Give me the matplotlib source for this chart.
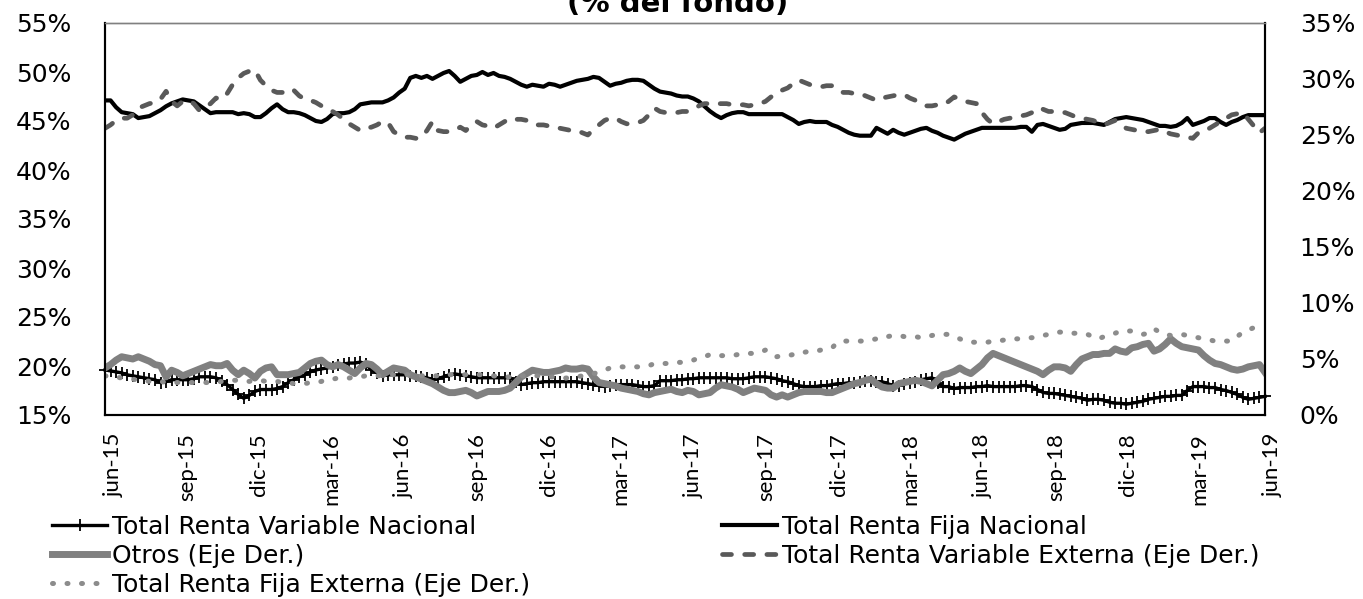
import matplotlib
matplotlib.use("Agg")
import matplotlib.pyplot as plt
from matplotlib.ticker import FuncFormatter
from matplotlib.transforms import ScaledTranslation
import pandas as pd

plt.rcParams["font.family"] = ["DejaVu Sans"]

# Weekly observations, June 2015 - June 2019 (% of the fund)
dates = pd.date_range("2015-06-01", periods=210, freq="7D")

tick_dates = pd.date_range("2015-06-01", "2019-06-01", freq="3MS")
tick_labels = ["jun-15", "sep-15", "dic-15", "mar-16", "jun-16", "sep-16",
               "dic-16", "mar-17", "jun-17", "sep-17", "dic-17", "mar-18",
               "jun-18", "sep-18", "dic-18", "mar-19", "jun-19"]

# Left axis
renta_variable_nacional = [
    19.6, 19.5, 19.4, 19.3, 19.1, 19.0, 18.9, 18.8, 18.7, 18.6,
    18.3, 18.4, 18.6, 18.6, 18.6, 18.6, 18.7, 18.9, 18.9, 18.9,
    18.8, 18.5, 18.1, 17.6, 17.1, 16.7, 17.0, 17.4, 17.6, 17.6,
    17.6, 17.7, 17.9, 18.3, 18.6, 18.9, 19.1, 19.4, 19.6, 19.7,
    19.8, 19.9, 20.1, 20.2, 20.3, 20.3, 20.4, 20.2, 19.6, 19.3,
    19.0, 19.1, 19.1, 19.1, 19.1, 19.0, 19.0, 18.9, 18.8, 18.6,
    18.7, 18.9, 19.1, 19.2, 19.1, 19.0, 18.9, 18.8, 18.8, 18.8,
    18.8, 18.8, 18.8, 18.8, 18.4, 18.1, 18.2, 18.3, 18.3, 18.4,
    18.4, 18.4, 18.4, 18.4, 18.4, 18.4, 18.3, 18.2, 18.1, 18.0,
    17.9, 18.0, 18.1, 18.1, 18.1, 18.1, 18.0, 17.9, 17.9, 18.0,
    18.5, 18.5, 18.5, 18.6, 18.6, 18.7, 18.7, 18.8, 18.8, 18.8,
    18.8, 18.8, 18.8, 18.7, 18.7, 18.7, 18.8, 18.9, 18.9, 18.9,
    18.8, 18.7, 18.5, 18.4, 18.2, 18.0, 17.9, 17.9, 17.9, 18.0,
    18.0, 18.1, 18.2, 18.2, 18.3, 18.3, 18.4, 18.5, 18.5, 18.4,
    18.4, 18.2, 18.0, 18.0, 18.2, 18.3, 18.4, 18.6, 18.7, 18.8,
    18.3, 17.9, 17.9, 17.7, 17.8, 17.8, 17.8, 17.9, 17.9, 18.0,
    17.9, 17.9, 17.9, 17.9, 17.9, 18.0, 18.0, 17.9, 17.6, 17.3,
    17.2, 17.2, 17.1, 17.0, 16.9, 16.8, 16.7, 16.5, 16.6, 16.6,
    16.5, 16.3, 16.2, 16.2, 16.1, 16.2, 16.3, 16.4, 16.6, 16.7,
    16.8, 16.9, 16.9, 17.0, 17.0, 17.5, 17.9, 17.9, 17.9, 17.8,
    17.8, 17.6, 17.5, 17.3, 17.1, 16.8, 16.6, 16.7, 16.8, 16.9]

renta_fija_nacional = [
    47.1, 47.1, 46.4, 45.9, 45.8, 45.7, 45.3, 45.4, 45.5, 45.8,
    46.1, 46.5, 46.8, 47.0, 47.2, 47.1, 47.0, 46.6, 46.2, 45.8,
    45.9, 45.9, 45.9, 45.9, 45.7, 45.8, 45.7, 45.4, 45.4, 45.8,
    46.3, 46.7, 46.2, 45.9, 45.9, 45.8, 45.6, 45.3, 45.0, 44.9,
    45.2, 45.7, 45.8, 45.8, 45.9, 46.2, 46.7, 46.8, 46.9, 46.9,
    46.9, 47.1, 47.4, 47.9, 48.3, 49.4, 49.6, 49.4, 49.6, 49.3,
    49.6, 49.9, 50.1, 49.6, 49.0, 49.3, 49.6, 49.7, 50.0, 49.7,
    49.9, 49.6, 49.5, 49.3, 49.0, 48.7, 48.5, 48.7, 48.6, 48.5,
    48.8, 48.7, 48.5, 48.7, 48.9, 49.1, 49.2, 49.3, 49.5, 49.4,
    49.0, 48.6, 48.8, 48.9, 49.1, 49.2, 49.2, 49.1, 48.7, 48.3,
    48.0, 47.9, 47.8, 47.6, 47.5, 47.5, 47.3, 47.0, 46.5, 46.0,
    45.6, 45.3, 45.6, 45.8, 45.9, 45.9, 45.7, 45.7, 45.7, 45.7,
    45.7, 45.7, 45.7, 45.4, 45.1, 44.7, 44.9, 45.0, 44.9, 44.9,
    44.9, 44.6, 44.4, 44.1, 43.8, 43.6, 43.5, 43.5, 43.5, 44.3,
    44.0, 43.7, 44.1, 43.8, 43.6, 43.8, 44.0, 44.2, 44.3, 44.0,
    43.8, 43.5, 43.3, 43.1, 43.4, 43.7, 43.9, 44.1, 44.3, 44.3,
    44.3, 44.3, 44.3, 44.3, 44.3, 44.4, 44.4, 43.9, 44.6, 44.7,
    44.5, 44.3, 44.1, 44.2, 44.6, 44.7, 44.8, 44.8, 44.8, 44.7,
    44.6, 44.9, 45.2, 45.3, 45.4, 45.3, 45.2, 45.1, 44.9, 44.7,
    44.5, 44.5, 44.4, 44.5, 44.8, 45.3, 44.6, 44.8, 45.0, 45.3,
    45.3, 44.9, 44.6, 44.9, 45.1, 45.4, 45.6, 45.6, 45.6, 45.6]

# Right axis
otros = [
    4.2, 4.5, 4.9, 5.2, 5.1, 5.0, 5.2, 5.0, 4.8, 4.5,
    4.4, 3.4, 4.0, 3.8, 3.5, 3.7, 3.9, 4.1, 4.3, 4.5,
    4.4, 4.4, 4.6, 4.0, 3.6, 4.0, 3.7, 3.3, 3.9, 4.2,
    4.3, 3.6, 3.6, 3.6, 3.7, 3.8, 4.2, 4.6, 4.8, 4.9,
    4.5, 4.3, 4.5, 4.3, 4.0, 3.7, 4.2, 4.6, 4.5, 4.1,
    3.6, 3.9, 4.2, 4.1, 4.0, 3.6, 3.4, 3.2, 3.0, 2.8,
    2.5, 2.2, 2.0, 2.0, 2.1, 2.2, 2.0, 1.7, 1.9, 2.1,
    2.1, 2.1, 2.2, 2.4, 2.9, 3.4, 3.7, 4.0, 3.9, 3.8,
    3.8, 3.9, 4.0, 4.2, 4.1, 4.1, 4.2, 4.1, 3.4, 2.9,
    2.8, 2.7, 2.6, 2.4, 2.3, 2.2, 2.1, 1.9, 1.8, 2.0,
    2.1, 2.2, 2.3, 2.1, 2.0, 2.2, 2.1, 1.8, 1.9, 2.0,
    2.4, 2.7, 2.6, 2.5, 2.3, 2.0, 2.2, 2.4, 2.3, 2.2,
    1.8, 1.6, 1.8, 1.6, 1.8, 2.0, 2.1, 2.1, 2.1, 2.1,
    2.0, 2.0, 2.2, 2.4, 2.6, 2.8, 2.9, 3.1, 3.2, 2.8,
    2.5, 2.4, 2.4, 2.8, 2.9, 3.0, 3.1, 3.0, 2.8, 2.6,
    3.1, 3.6, 3.7, 3.9, 4.2, 3.9, 3.7, 4.1, 4.5, 5.1,
    5.5, 5.3, 5.1, 4.9, 4.7, 4.5, 4.3, 4.1, 3.9, 3.6,
    4.0, 4.3, 4.3, 4.2, 3.9, 4.5, 5.0, 5.2, 5.4, 5.4,
    5.5, 5.5, 5.9, 5.7, 5.6, 6.0, 6.1, 6.3, 6.4, 5.7,
    5.9, 6.3, 6.8, 6.4, 6.1, 6.0, 5.9, 5.8, 5.3, 4.9,
    4.6, 4.5, 4.3, 4.1, 4.0, 4.1, 4.3, 4.4, 4.5, 3.8]

renta_variable_externa = [
    25.6, 25.9, 26.3, 26.5, 26.5, 26.8, 27.4, 27.6, 27.8, 27.9,
    28.2, 28.9, 28.0, 27.6, 28.0, 28.1, 27.8, 27.2, 27.5, 27.8,
    28.3, 28.2, 28.7, 29.5, 30.1, 30.5, 30.7, 30.8, 29.9, 29.4,
    29.0, 28.8, 28.8, 29.1, 29.0, 28.5, 28.2, 28.1, 27.9, 27.6,
    27.3, 27.1, 26.8, 26.4, 26.0, 25.7, 25.4, 25.6, 25.7, 25.9,
    26.2, 26.1, 25.3, 25.0, 24.8, 24.8, 24.7, 24.8, 25.4, 26.2,
    25.4, 25.3, 25.3, 25.4, 25.7, 25.4, 25.9, 26.2, 25.9, 25.8,
    25.6, 25.9, 26.2, 26.5, 26.4, 26.4, 26.3, 26.2, 25.9, 25.9,
    25.8, 25.7, 25.6, 25.5, 25.4, 25.4, 25.2, 25.0, 25.5, 25.9,
    26.3, 26.5, 26.5, 26.2, 26.0, 26.0, 26.1, 26.3, 26.8, 27.4,
    27.1, 27.0, 27.0, 27.0, 27.1, 27.1, 27.3, 27.6, 27.8, 27.8,
    27.8, 27.8, 27.8, 27.7, 27.7, 27.7, 27.6, 27.7, 27.8, 28.0,
    28.4, 28.7, 29.0, 29.2, 29.6, 29.9, 29.7, 29.5, 29.4, 29.3,
    29.4, 29.4, 29.1, 28.8, 28.8, 28.7, 28.7, 28.5, 28.3, 28.1,
    28.3, 28.4, 28.5, 28.6, 28.6, 28.3, 28.1, 27.8, 27.6, 27.6,
    27.7, 27.7, 28.0, 28.4, 28.2, 28.0, 27.9, 27.8, 27.0, 26.4,
    26.0, 26.2, 26.4, 26.5, 26.6, 26.7, 26.8, 27.0, 27.4, 27.3,
    27.1, 27.1, 27.0, 27.0, 26.8, 26.6, 26.5, 26.4, 26.3, 26.1,
    25.9, 26.1, 26.3, 26.0, 25.6, 25.5, 25.4, 25.3, 25.3, 25.4,
    25.5, 25.3, 25.1, 25.0, 24.9, 24.8, 24.7, 25.2, 25.5, 25.6,
    25.9, 26.2, 26.5, 26.8, 26.9, 27.0, 26.4, 25.8, 25.2, 25.6]

renta_fija_externa = [
    3.5, 3.4, 3.4, 3.3, 3.3, 3.2, 3.1, 3.1, 3.0, 3.0,
    3.0, 2.9, 2.9, 2.9, 2.9, 2.9, 2.9, 2.9, 2.9, 2.9,
    2.9, 3.0, 3.1, 3.1, 3.1, 3.0, 3.0, 3.1, 3.1, 3.0,
    3.0, 3.0, 2.9, 2.9, 2.8, 2.8, 2.8, 2.9, 2.9, 3.0,
    3.2, 3.2, 3.3, 3.3, 3.3, 3.4, 3.4, 3.5, 3.5, 3.5,
    3.5, 3.6, 3.6, 3.6, 3.6, 3.6, 3.6, 3.5, 3.5, 3.5,
    3.5, 3.5, 3.6, 3.6, 3.6, 3.6, 3.6, 3.6, 3.6, 3.6,
    3.5, 3.4, 3.4, 3.4, 3.5, 3.5, 3.5, 3.5, 3.5, 3.5,
    3.4, 3.4, 3.4, 3.3, 3.3, 3.4, 3.5, 3.6, 3.7, 3.8,
    4.0, 4.2, 4.3, 4.3, 4.3, 4.3, 4.3, 4.3, 4.4, 4.6,
    4.6, 4.6, 4.6, 4.7, 4.7, 4.8, 4.9, 5.1, 5.2, 5.4,
    5.4, 5.3, 5.3, 5.3, 5.4, 5.4, 5.5, 5.5, 5.6, 5.8,
    5.6, 5.2, 5.3, 5.3, 5.4, 5.6, 5.6, 5.7, 5.7, 5.8,
    5.9, 6.0, 6.5, 6.6, 6.6, 6.6, 6.6, 6.6, 6.7, 6.8,
    7.0, 7.0, 7.1, 7.1, 7.0, 7.0, 7.0, 6.9, 7.0, 7.1,
    7.2, 7.2, 7.2, 7.0, 6.8, 6.6, 6.5, 6.5, 6.5, 6.5,
    6.6, 6.6, 6.7, 6.7, 6.8, 6.8, 6.9, 6.9, 7.0, 7.1,
    7.2, 7.3, 7.4, 7.4, 7.3, 7.3, 7.3, 7.2, 7.0, 6.8,
    7.0, 7.1, 7.3, 7.5, 7.5, 7.5, 7.4, 7.2, 7.3, 7.7,
    7.4, 7.2, 7.1, 7.2, 7.2, 7.1, 7.0, 6.9, 6.8, 6.7,
    6.6, 6.6, 6.6, 6.6, 7.0, 7.4, 7.6, 7.8, 7.9, 8.0]

W, H = 1363, 599
fig = plt.figure(figsize=(W / 100, H / 100), dpi=100)
ax = fig.add_axes([105 / W, 1 - 415 / H, 1160 / W, 392 / H])
ax2 = ax.twinx()

l_rvn, = ax.plot(dates, renta_variable_nacional, color="black", lw=2.4,
                 marker="+", ms=8, mew=1.3, clip_on=False,
                 label="Total Renta Variable Nacional")
l_rfn, = ax.plot(dates, renta_fija_nacional, color="black", lw=3.0,
                 label="Total Renta Fija Nacional")
l_otr, = ax2.plot(dates, otros, color="#808080", lw=5.0,
                  solid_joinstyle="round", label="Otros (Eje Der.)")
l_rve, = ax2.plot(dates, renta_variable_externa, color="#595959", lw=3.4,
                  dashes=(1.9, 2.8), dash_capstyle="round",
                  label="Total Renta Variable Externa (Eje Der.)")
l_rfe, = ax2.plot(dates, renta_fija_externa, color="#8c8c8c", lw=3.6,
                  dashes=(0.2, 2.7), dash_capstyle="round",
                  label="Total Renta Fija Externa (Eje Der.)")

ax.set_xlim(dates[0], dates[-1])
ax.set_ylim(15, 55)
ax2.set_ylim(0, 35)
ax.set_yticks(range(15, 56, 5))
ax2.set_yticks(range(0, 36, 5))
pct = FuncFormatter(lambda v, p: f"{v:.0f}%")
ax.yaxis.set_major_formatter(pct)
ax2.yaxis.set_major_formatter(pct)

# Quarterly date labels, set slightly right of each tick and below the axis
ax.set_xticks(tick_dates)
ax.set_xticklabels([])
lab_tf = ax.get_xaxis_transform() + ScaledTranslation(9 / 100, -18 / 100,
                                                      fig.dpi_scale_trans)
for d, txt in zip(tick_dates, tick_labels):
    ax.text(d, 0, txt, transform=lab_tf, rotation=90, ha="center", va="top",
            fontsize=16, family="Lato", clip_on=False)

ax.tick_params(axis="x", length=0)
ax.tick_params(axis="y", length=0, pad=24, labelsize=18)
ax2.tick_params(axis="y", length=0, pad=25, labelsize=18)

for a in (ax, ax2):
    for side in ("left", "right", "bottom"):
        a.spines[side].set_color("black")
        a.spines[side].set_linewidth(1.5)
    a.spines["top"].set_color("#808080")
    a.spines["top"].set_linewidth(1.0)

fig.text(678 / W, 1 - 12 / H, "(% del fondo)", ha="center", va="baseline",
         fontsize=21, fontweight="bold")

leg_kw = dict(loc="upper left", frameon=False, fontsize=18, handlelength=2.2,
              handletextpad=0.2, labelspacing=0.2, borderpad=0,
              borderaxespad=0)
fig.legend([l_rvn, l_otr, l_rfe],
           [l.get_label() for l in (l_rvn, l_otr, l_rfe)],
           bbox_to_anchor=(52 / W, 1 - 515 / H), **leg_kw)
fig.legend([l_rfn, l_rve],
           [l.get_label() for l in (l_rfn, l_rve)],
           bbox_to_anchor=(722 / W, 1 - 515 / H), **leg_kw)

fig.savefig("out.png", dpi=100)
